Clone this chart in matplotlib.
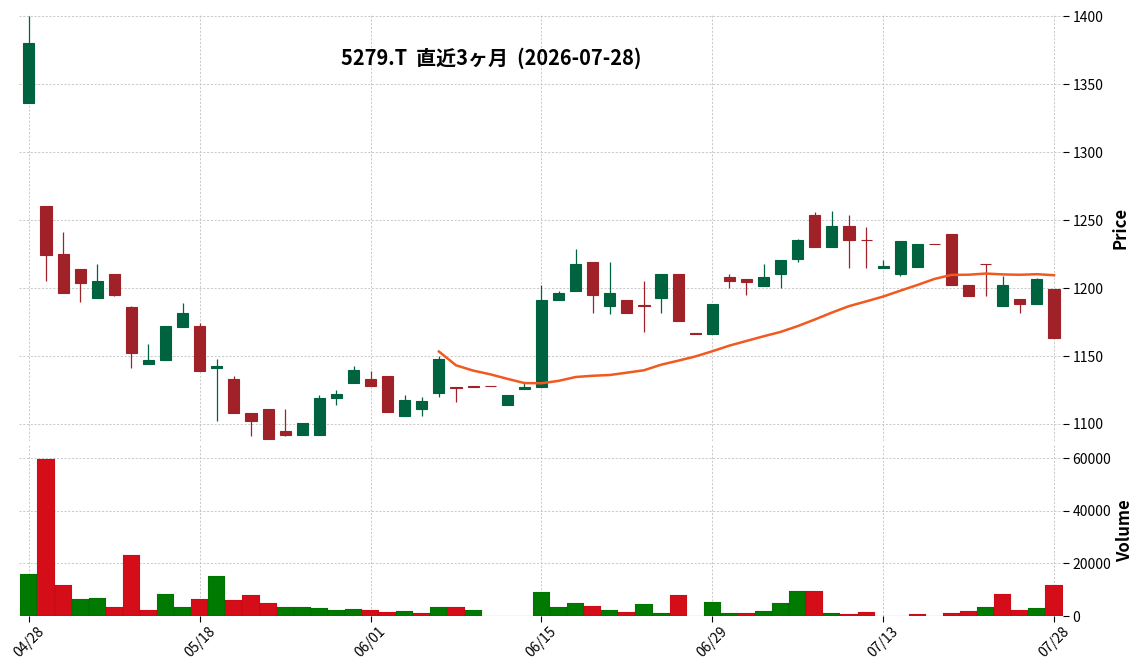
import numpy as np
import pandas as pd
import matplotlib
matplotlib.use("Agg")
import matplotlib.pyplot as plt

plt.rcParams['font.family'] = ['Noto Sans CJK JP', 'DejaVu Sans']

# daily OHLC + volume (61 trading days)
opens = [1336, 1260, 1225, 1214, 1193, 1210, 1186, 1144, 1147, 1171,
         1172, 1141, 1133, 1108, 1111, 1095, 1092, 1092, 1119, 1130,
         1133, 1135, 1106, 1111, 1123, 1127.5, 1128, 1128, 1114, 1125.5,
         1127, 1191, 1198, 1219, 1187, 1191, 1187.6, 1193, 1210, 1167,
         1166.5, 1208, 1207, 1201.5, 1210, 1221, 1254, 1230, 1245.6, 1235.4,
         1215, 1210, 1215.5, 1232.6, 1240, 1202, 1217.8, 1187, 1192, 1188,
         1199.5]
highs = [1400, 1260, 1241, 1214, 1218, 1210, 1187, 1159, 1172, 1189,
         1174, 1148, 1135, 1108, 1111, 1111, 1101, 1121, 1125, 1143,
         1139, 1135, 1121, 1120, 1150, 1127.5, 1128, 1128, 1121, 1130,
         1202, 1198, 1229, 1219, 1219, 1191, 1205, 1210, 1210, 1167,
         1188, 1210, 1207, 1218, 1220.6, 1236, 1256, 1257, 1254, 1245,
         1220.6, 1234.6, 1232.6, 1232.6, 1240, 1202, 1217.8, 1209, 1192, 1207.5,
         1199.5]
lows = [1336, 1205, 1196, 1190, 1193, 1194, 1141, 1144, 1147, 1171,
        1139, 1102, 1108, 1091, 1089, 1091, 1092, 1092, 1114, 1130,
        1128, 1109, 1106, 1106, 1120, 1116, 1127.5, 1127.6, 1114, 1125.5,
        1127, 1191, 1198, 1182, 1181, 1182, 1168, 1182, 1176, 1166.5,
        1166, 1200, 1195, 1201.5, 1200, 1219, 1230, 1230, 1215, 1215,
        1215, 1209, 1215.5, 1232.2, 1202, 1194, 1194, 1187, 1182, 1188,
        1163.5]
closes = [1380, 1224, 1196, 1204, 1205, 1195, 1152, 1147, 1172, 1182,
          1139, 1143, 1108, 1102, 1089, 1092, 1101, 1119, 1122, 1140,
          1128, 1109, 1118, 1117, 1148, 1126.5, 1127.5, 1127.6, 1121, 1127,
          1191, 1196, 1218, 1195, 1196, 1182, 1187, 1210, 1176, 1166.5,
          1188, 1205, 1204.5, 1208, 1220.6, 1235, 1230, 1245.6, 1235.2, 1235,
          1216, 1234.6, 1232.6, 1232.2, 1202, 1194, 1217.5, 1202, 1188.5, 1206.6,
          1163.5]
volumes = [16100, 59500, 11900, 6600, 7000, 3600, 23200, 2100, 8500, 3300,
           6600, 15300, 5900, 7800, 5100, 3300, 3600, 2900, 2100, 2500,
           2100, 1400, 1800, 1000, 3600, 3300, 2100, 0, 0, 0,
           9300, 3400, 4900, 3800, 2300, 1500, 4500, 1100, 7900, 0,
           5300, 1100, 1100, 1900, 4900, 9400, 9400, 1100, 750, 1500,
           0, 0, 750, 0, 1100, 1900, 3400, 8300, 2300, 3000,
           11700]

tick_pos = [0, 10, 20, 30, 40, 50, 60]
tick_labels = ['04/28', '05/18', '06/01', '06/15', '06/29', '07/13', '07/28']

df = pd.DataFrame({'Open': opens, 'High': highs, 'Low': lows,
                   'Close': closes, 'Volume': volumes})
df['ma25'] = df['Close'].rolling(25).mean()
x = np.arange(len(df))

up_c, down_c = '#006340', '#a02128'
vup_c, vdown_c = '#007a00', '#d50d18'

fig = plt.figure(figsize=(11.44, 6.72), dpi=100)
ax = fig.add_axes([0.0163, 0.3438, 0.9125, 0.6352])
axv = fig.add_axes([0.0163, 0.0833, 0.9125, 0.2545], sharex=ax)

# candles
ccol = [up_c if c >= o else down_c for o, c in zip(df['Open'], df['Close'])]
ax.vlines(x, df['Low'], df['High'], colors=ccol, linewidth=0.9, zorder=2)
body_bot = np.minimum(df['Open'], df['Close'])
body_h = np.abs(df['Close'] - df['Open'])
ax.bar(x, body_h, bottom=body_bot, width=0.65, color=ccol,
       edgecolor=ccol, linewidth=0.8, zorder=3)
ax.plot(x, df['ma25'], color='#f05a1e', linewidth=1.8, zorder=4)

# volume, coloured by close vs previous close
prev = df['Close'].shift(1).fillna(df['Open'])
vcol = [vup_c if c >= p else vdown_c for c, p in zip(df['Close'], prev)]
axv.bar(x, df['Volume'], width=1.0, color=vcol, edgecolor='#00000030',
        linewidth=0.3, zorder=3)

for a in (ax, axv):
    for s in a.spines.values():
        s.set_visible(False)
    a.grid(True, linestyle=(0, (2.5, 2)), color='#c0c0c0', linewidth=0.6)
    a.set_axisbelow(True)
    a.yaxis.tick_right()
    a.yaxis.set_label_position('right')
    a.tick_params(axis='y', labelsize=10, length=4, pad=3)

ax.set_xlim(-0.6, 60.5)
ax.set_ylim(1087.5, 1401.5)
ax.set_yticks(np.arange(1100, 1401, 50))
ax.tick_params(axis='x', labelbottom=False, length=0)
ax.set_ylabel('Price', fontsize=12, fontweight='bold', labelpad=6)

axv.set_ylim(0, 65000)
axv.set_yticks([0, 20000, 40000, 60000])
axv.set_xticks(tick_pos)
axv.set_xticklabels(tick_labels, rotation=45, ha='center', fontsize=10)
axv.tick_params(axis='x', length=4, pad=2)
axv.set_ylabel('Volume', fontsize=12, fontweight='bold', labelpad=4)

fig.text(0.4292, 0.9137, '5279.T  直近3ヶ月  (2026-07-28)', ha='center',
         va='center', fontsize=14.4, fontweight='bold')

fig.savefig('out.png', dpi=100)
